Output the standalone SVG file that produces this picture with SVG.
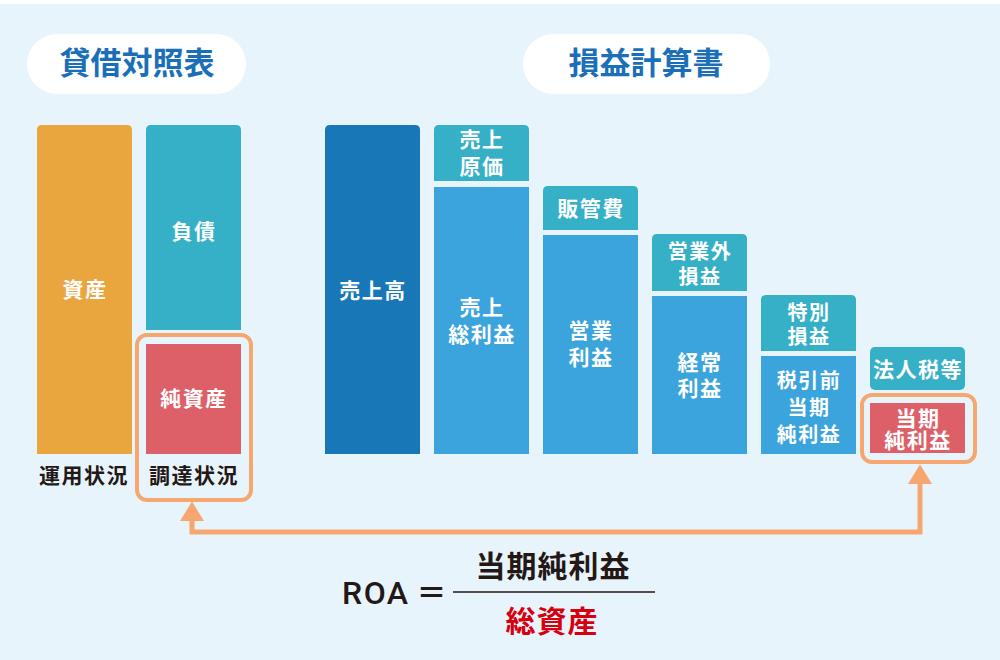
<svg xmlns="http://www.w3.org/2000/svg" width="1000" height="660" viewBox="0 0 1000 660">
<defs>
<style>
.t{font-family:"Noto Sans CJK JP","Noto Sans CJK SC",sans-serif;fill:#fff;font-size:21px;font-weight:700;letter-spacing:1.5px;text-anchor:middle}
.s{font-size:20px}
.title{font-family:"Noto Sans CJK JP",sans-serif;fill:#1b6fb9;font-size:31px;font-weight:700;text-anchor:middle}
.lbl{font-family:"Noto Sans CJK JP",sans-serif;fill:#231815;font-size:21px;font-weight:700;letter-spacing:1.5px;text-anchor:middle}
.f{font-family:"Noto Sans CJK JP",sans-serif;font-size:30px;font-weight:700;text-anchor:middle;letter-spacing:1px}
.orange{fill:#e9a53e}.teal{fill:#35b0c6}.dblue{fill:#1877b7}.blue{fill:#3ba4dd}.red{fill:#dd5f68}
.outline{fill:none;stroke:#f5a76f;stroke-width:4}
.pill{fill:#fff}
</style>
<marker id="ah" markerUnits="userSpaceOnUse" markerWidth="20" markerHeight="24" viewBox="0 0 18 22" refX="0" refY="11" orient="auto-start-reverse">
<path d="M0,0 L18,11 L0,22 Z" fill="#f5a76f"/>
</marker>
</defs>
<rect width="1000" height="660" fill="#fff"/>
<rect x="0" y="4" width="1000" height="656" fill="#e8f4fc"/>

<g id="title-bs">
<rect class="pill" x="27" y="34" width="219" height="60" rx="30"/>
<text class="title" x="137" y="74">貸借対照表</text>
</g>
<g id="title-pl">
<rect class="pill" x="523" y="34" width="247" height="60" rx="30"/>
<text class="title" x="646" y="74" font-size="32">損益計算書</text>
</g>

<g id="assets">
<path class="orange" d="M37,454 V130 Q37,125 42,125 H127 Q132,125 132,130 V454 Z"/>
<text class="t" x="85" y="297">資産</text>
</g>
<g id="liabilities">
<path class="teal" d="M146,330 V130 Q146,125 151,125 H236 Q241,125 241,130 V330 Z"/>
<text class="t" x="194" y="239">負債</text>
</g>
<g id="net-assets">
<rect class="red" x="146" y="344" width="95" height="110"/>
<text class="t" x="194" y="406">純資産</text>
<rect class="outline" x="137" y="335" width="114" height="165" rx="10"/>
</g>
<g id="label-use">
<text class="lbl" x="84" y="483">運用状況</text>
</g>
<g id="label-procure">
<text class="lbl" x="194" y="483">調達状況</text>
</g>

<g id="sales">
<path class="dblue" d="M325,454 V130 Q325,125 330,125 H415 Q420,125 420,130 V454 Z"/>
<text class="t" x="373" y="298">売上高</text>
</g>
<g id="cogs">
<path class="teal" d="M434,181 V130 Q434,125 439,125 H524 Q529,125 529,130 V181 Z"/>
<text class="t" x="482" y="147">売上<tspan x="482" dy="27">原価</tspan></text>
</g>
<g id="gross-profit">
<rect class="blue" x="434" y="187" width="95" height="267"/>
<text class="t" x="482" y="315">売上<tspan x="482" dy="27">総利益</tspan></text>
</g>
<g id="sga">
<path class="teal" d="M543,230 V191 Q543,186 548,186 H633 Q638,186 638,191 V230 Z"/>
<text class="t" x="591" y="216">販管費</text>
</g>
<g id="operating-profit">
<rect class="blue" x="543" y="235" width="95" height="219"/>
<text class="t" x="591" y="338">営業<tspan x="591" dy="27">利益</tspan></text>
</g>
<g id="non-operating">
<path class="teal" d="M652,291 V239 Q652,234 657,234 H742 Q747,234 747,239 V291 Z"/>
<text class="t s" x="700" y="259">営業外<tspan x="700" dy="25">損益</tspan></text>
</g>
<g id="ordinary-profit">
<rect class="blue" x="652" y="296" width="95" height="158"/>
<text class="t" x="700" y="370">経常<tspan x="700" dy="26">利益</tspan></text>
</g>
<g id="extraordinary">
<path class="teal" d="M761,351 V300 Q761,295 766,295 H851 Q856,295 856,300 V351 Z"/>
<text class="t s" x="809" y="320">特別<tspan x="809" dy="24">損益</tspan></text>
</g>
<g id="pretax-profit">
<rect class="blue" x="761" y="356" width="95" height="98"/>
<text class="t s" x="809" y="388">税引前<tspan x="809" dy="27">当期</tspan><tspan x="809" dy="27">純利益</tspan></text>
</g>
<g id="taxes">
<rect class="teal" x="870" y="347" width="95" height="43" rx="5"/>
<text class="t" x="918" y="377">法人税等</text>
</g>
<g id="net-income">
<rect class="red" x="870" y="403" width="95" height="50"/>
<text class="t" x="918" y="426" font-size="19">当期<tspan x="918" dy="22">純利益</tspan></text>
<rect class="outline" x="862" y="395" width="113" height="67" rx="10"/>
</g>

<g id="connectors">
<path d="M192,521 V532 H920 V484" fill="none" stroke="#f5a76f" stroke-width="5" stroke-linejoin="miter" marker-start="url(#ah)" marker-end="url(#ah)"/>
</g>

<g id="formula">
<text x="342" y="604" font-family="Roboto, Liberation Sans, sans-serif" font-weight="500" font-size="32" fill="#231815" letter-spacing="1.5">ROA</text>
<text x="432" y="603" class="f" fill="#231815">＝</text>
<line x1="453" y1="592" x2="655" y2="592" stroke="#231815" stroke-width="1.5"/>
<text class="f" x="553" y="577" fill="#231815">当期純利益</text>
<text class="f" x="552" y="632" fill="#d7000f">総資産</text>
</g>
</svg>
